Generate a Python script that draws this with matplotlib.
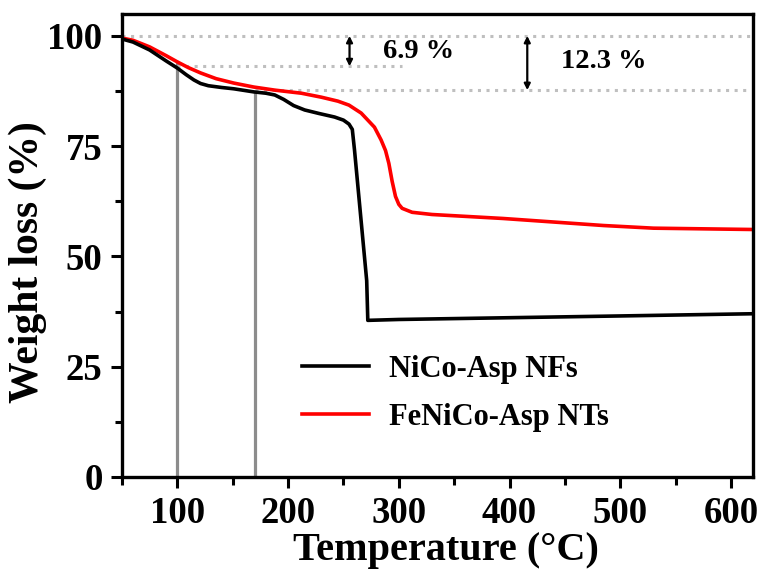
import matplotlib
matplotlib.use("Agg")
import matplotlib.pyplot as plt
from matplotlib.ticker import MultipleLocator

# TGA curves, temperature (C) vs remaining weight (%)
temp_nf = [50, 60, 75, 90, 100, 108, 115, 121, 128, 140, 151, 169, 180, 188,
           196, 205, 215, 228, 242, 250, 255, 258, 260, 271, 272, 300, 400,
           500, 620]
weight_nf = [99.3, 98.6, 96.8, 94.3, 92.7, 91.2, 90.0, 89.2, 88.7, 88.3, 88.0,
             87.3, 87.0, 86.6, 85.6, 84.2, 83.2, 82.4, 81.6, 80.9, 80.0, 78.8,
             74.1, 44.5, 35.5, 35.7, 36.1, 36.5, 37.0]

temp_nt = [50, 60, 75, 90, 100, 110, 121, 135, 151, 169, 188, 212, 230, 245,
           255, 266, 278, 284, 288, 291, 294, 297, 300, 303, 312, 330, 394,
           485, 530, 620]
weight_nt = [99.5, 99.0, 97.5, 95.5, 94.1, 92.8, 91.6, 90.3, 89.3, 88.4, 87.7,
             87.0, 86.1, 85.2, 84.3, 82.5, 79.3, 76.4, 74.0, 71.1, 67.0, 63.6,
             61.8, 60.9, 60.0, 59.5, 58.6, 57.0, 56.4, 56.1]

labels = ["NiCo-Asp NFs", "FeNiCo-Asp NTs"]

# marker temperatures and the weight where each guide line stops
mark_temps = [100, 170]
mark_tops = [94.1, 87.1]

# weight losses noted on the plot
loss_nf = 6.9
loss_nt = 12.3

plt.rcParams["font.family"] = "Liberation Serif"
plt.rcParams["font.weight"] = "bold"

fig = plt.figure(figsize=(7.67, 5.76), dpi=100)
ax = fig.add_axes([0.159, 0.172, 0.823, 0.804])

# guide lines
for t, top in zip(mark_temps, mark_tops):
    ax.plot([t, t], [0, top], color="#8c8c8c", lw=2.3, zorder=1)

dot = dict(color="#bfbfbf", lw=2.2, linestyle=(0, (1, 1.8)), zorder=1)
ax.plot([50, 620], [100, 100], **dot)
ax.plot([100, 303], [100 - loss_nf, 100 - loss_nf], **dot)
ax.plot([170, 615], [100 - loss_nt, 100 - loss_nt], **dot)

ax.plot(temp_nf, weight_nf, color="black", lw=2.6, label=labels[0], zorder=3)
ax.plot(temp_nt, weight_nt, color="#ff0000", lw=2.6, label=labels[1], zorder=2)

# double arrows for the losses
arr = dict(arrowstyle="<|-|>", color="black", lw=1.6, mutation_scale=9,
           shrinkA=0, shrinkB=0)
ax.annotate("", xy=(255.5, 100 - loss_nf), xytext=(255.5, 100), arrowprops=arr)
ax.annotate("", xy=(416, 100 - loss_nt), xytext=(416, 100), arrowprops=arr)
ax.text(318, 96.4, f"{loss_nf} %", fontsize=20.5, fontweight="bold",
        ha="center", va="center")
ax.text(485, 94.1, f"{loss_nt} %", fontsize=20.5, fontweight="bold",
        ha="center", va="center")

ax.set_xlim(50, 620)
ax.set_ylim(0, 105)
ax.xaxis.set_major_locator(MultipleLocator(100))
ax.xaxis.set_minor_locator(MultipleLocator(50))
ax.yaxis.set_major_locator(MultipleLocator(25))
ax.yaxis.set_minor_locator(MultipleLocator(12.5))

for s in ax.spines.values():
    s.set_linewidth(2.4)
ax.tick_params(which="major", direction="out", length=8, width=2.2,
               labelsize=26.5, pad=6)
ax.tick_params(which="minor", direction="out", length=6, width=2.2)
ax.tick_params(axis="y", which="minor", length=5)

ax.set_xlabel("Temperature (°C)", fontsize=29, fontweight="bold")
ax.xaxis.set_label_coords(0.513, -0.118)
ax.set_ylabel("Weight loss (%)", fontsize=30, fontweight="bold")
ax.yaxis.set_label_coords(-0.118, 0.464)

ax.legend(loc="center left", bbox_to_anchor=(0.285, 0.18), frameon=False,
          fontsize=22, handlelength=2.2, handletextpad=0.65, labelspacing=0.62,
          borderpad=0, borderaxespad=0)

fig.savefig("out.png", dpi=100)
